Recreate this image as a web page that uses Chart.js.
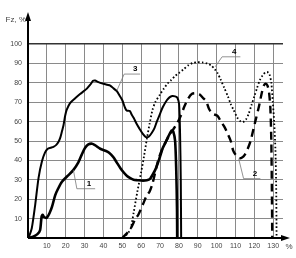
<!DOCTYPE html>
<html>
<head>
<meta charset="utf-8">
<script src="https://cdn.jsdelivr.net/npm/chart.js@4/dist/chart.umd.min.js"></script>
<style>
  html, body { margin: 0; padding: 0; background: #fff; }
  #wrap { width: 296px; height: 258px; }
</style>
</head>
<body>
<div id="wrap"><canvas id="fz-chart"></canvas></div>
<script>
// Curvas Fz (%) em função do percurso (%) - pares [x, y]
const curve1 = [[0.5,0],[3,0.8],[5,2],[6.4,4],[7.2,11],[7.8,12],[8.5,10.8],[10,10.5],[11.5,13],[12.7,16],[14.4,22],[16,25.5],[18,29],[21,32],[24,35],[26.7,39],[28.5,43],[30.3,46.5],[32,48.2],[34,48.6],[35.6,47.8],[38.3,46],[41,45],[43,44],[45.3,41.6],[47,39],[49,36],[51,33.5],[52.5,32],[54,31],[56,30],[58,29.8],[61,29.6],[63,29.8],[64.7,30.5],[66,32.5],[67.4,35],[69,39],[70,42],[71.5,46.5],[72.8,49],[74.5,52.5],[76.2,55.4],[77,55],[78,50],[78.6,35],[79,15],[79.1,0]];
const curve2 = [[50,0],[52,2],[54.5,5],[57,10],[58.5,12],[61,17.5],[63,22],[64.5,24],[66,28],[67.5,34],[69,40],[71,45.5],[73,49.5],[75,53],[77,56],[79,59],[81,63],[83,68],[85,72],[87,74.3],[89,74.6],[91,74],[93,72],[94.5,70.5],[96,66.5],[98,64],[100.5,63],[102,60.5],[104,57.5],[106,53.5],[107.5,50],[108.8,45],[110,43],[112,41.2],[113.5,41.5],[115,43],[116.5,46],[118,50],[119.5,56],[121,62],[122.5,68],[124,75],[125,78.5],[126,79.5],[127,78.5],[127.8,75],[128.5,67],[129,50],[129.3,25],[129.5,0]];
const curve3 = [[0.3,0],[2,5],[3.8,17],[5.6,31],[7.4,39.5],[9,44],[10.5,46],[12,46.5],[13.5,47],[15,48],[16.2,49.6],[17.2,52],[18,55],[18.8,58],[19.7,63],[20.5,66],[22.3,69.5],[25,72],[27.6,74.2],[30,76],[31.2,77],[33,79],[34.5,81],[35.6,81.2],[37,80.5],[40,79.5],[42,79],[43.6,78.6],[45.5,77],[47,75.8],[48.5,73.5],[50,71],[51.5,67],[52.4,65.7],[54,65.5],[55,63.5],[56,62],[57.5,59],[59,56.5],[61,53.5],[62.5,52],[64,52.2],[65.5,54],[67,56.5],[68.3,60],[70,64],[71.5,67.5],[73.6,71],[75,72.5],[76.5,73.2],[78,73],[79.2,72.3],[80.1,69],[80.6,55],[81,30],[81.2,0]];
const curve4 = [[50.5,0],[53,2.5],[54.5,5],[56,13],[58,24],[60,34],[61.5,42],[63,51],[64.5,59],[66,66],[67.5,70],[70,74],[72,77],[74,79.6],[76,81.5],[78,83.5],[80,85],[82.5,87],[85,89],[87.5,90.3],[90,90.6],[92.5,90.5],[95,90],[97,89],[99,87],[100.5,85],[102,82],[104,77.5],[106,73],[107.5,69],[109,66],[111,62],[112.5,60.3],[114,59.8],[115.5,61],[117,64],[118.5,68.5],[120,73],[121.5,77.5],[123,81.5],[124.5,84],[126,85.5],[127,85.5],[128,84.5],[129,80],[129.8,70],[130.5,60],[131.2,45],[131.6,25],[131.8,0]];

// Marcas dos eixos
const xTickValues = [0, 10, 20, 30, 40, 50, 60, 70, 80, 90, 100, 110, 120, 130];
const yTickValues = [0, 10, 20, 30, 40, 50, 60, 70, 80, 90, 100];

// Rótulos das curvas: [texto, ponto na curva, cotovelo, fim da linha] em unidades do gráfico
const curveLabels = [
    ['1', [24.1, 34.9], [25.9, 25.4], [35.6, 25.4]],
    ['2', [111.7, 40.9], [114.3, 30.6], [123.2, 30.6]],
    ['3', [47.2, 76.2], [51.0, 84.5], [59.5, 84.5]],
    ['4', [99.3, 88.3], [102.9, 93.4], [112.6, 93.4]]
];

const xMax = 135.2;
const FONT = 'Arial, "Liberation Sans", sans-serif';

const toPoints = arr => arr.map(p => ({ x: p[0], y: p[1] }));

// Eixos com setas, títulos e rótulos das curvas
const axesPlugin = {
    id: 'axesPlugin',
    afterDatasetsDraw(chart) {
        const ctx = chart.ctx;
        const xs = chart.scales.x;
        const ys = chart.scales.y;
        ctx.save();
        curveLabels.forEach(([text, a, b, c]) => {
            ctx.strokeStyle = '#777';
            ctx.lineWidth = 0.8;
            ctx.beginPath();
            ctx.moveTo(xs.getPixelForValue(a[0]), ys.getPixelForValue(a[1]));
            ctx.lineTo(xs.getPixelForValue(b[0]), ys.getPixelForValue(b[1]));
            ctx.lineTo(xs.getPixelForValue(c[0]), ys.getPixelForValue(c[1]));
            ctx.stroke();
            ctx.fillStyle = '#000';
            ctx.font = 'bold 8px ' + FONT;
            ctx.textAlign = 'center';
            ctx.textBaseline = 'bottom';
            const lx = (xs.getPixelForValue(b[0]) + xs.getPixelForValue(c[0])) / 2 + 3;
            ctx.fillText(text, lx, ys.getPixelForValue(b[1]) - 1);
        });
        ctx.restore();
    },
    afterDraw(chart) {
        const ctx = chart.ctx;
        const x0 = chart.scales.x.getPixelForValue(0);
        const y0 = chart.scales.y.getPixelForValue(0);
        ctx.save();
        ctx.strokeStyle = '#000';
        ctx.fillStyle = '#000';
        ctx.lineWidth = 2;
        // eixo Y
        ctx.beginPath();
        ctx.moveTo(x0, y0);
        ctx.lineTo(x0, 18);
        ctx.stroke();
        ctx.beginPath();
        ctx.moveTo(x0, 12);
        ctx.lineTo(x0 - 3, 21);
        ctx.lineTo(x0 + 3, 21);
        ctx.closePath();
        ctx.fill();
        // eixo X
        ctx.beginPath();
        ctx.moveTo(x0, y0);
        ctx.lineTo(284, y0);
        ctx.stroke();
        ctx.beginPath();
        ctx.moveTo(290, y0);
        ctx.lineTo(281, y0 - 3);
        ctx.lineTo(281, y0 + 3);
        ctx.closePath();
        ctx.fill();
        // títulos
        ctx.fillStyle = '#444';
        ctx.font = '8px ' + FONT;
        ctx.textAlign = 'right';
        ctx.textBaseline = 'middle';
        ctx.fillText('Fz, %', x0 - 2, 20);
        ctx.textAlign = 'center';
        ctx.fillText('%', 289, y0 + 9);
        ctx.restore();
    }
};

new Chart(document.getElementById('fz-chart'), {
    type: 'line',
    data: {
        datasets: [
            { label: '1', data: toPoints(curve1), borderColor: '#000', borderWidth: 2.6 },
            { label: '2', data: toPoints(curve2), borderColor: '#000', borderWidth: 2.4, borderDash: [8, 5] },
            { label: '3', data: toPoints(curve3), borderColor: '#000', borderWidth: 2 },
            { label: '4', data: toPoints(curve4), borderColor: '#000', borderWidth: 1.8, borderDash: [1.6, 2.2] }
        ]
    },
    options: {
        responsive: true,
        maintainAspectRatio: false,
        animation: false,
        layout: { padding: { top: 44, right: 13, left: 0, bottom: 0 } },
        elements: {
            point: { radius: 0 },
            line: { tension: 0.25, fill: false }
        },
        plugins: {
            legend: { display: false },
            tooltip: { enabled: false }
        },
        scales: {
            x: {
                type: 'linear',
                min: 0,
                max: xMax,
                afterBuildTicks: scale => {
                    scale.ticks = xTickValues.map(v => ({ value: v }));
                },
                afterFit: scale => { scale.height = 20; },
                ticks: {
                    padding: 4,
                    color: '#444',
                    font: { family: FONT, size: 7 },
                    maxRotation: 0,
                    autoSkip: false,
                    callback: v => (v === 0 ? '' : v)
                },
                grid: {
                    drawTicks: false,
                    color: ctx => (ctx.tick && ctx.tick.value === 0 ? 'rgba(0,0,0,0)' : '#8a8a8a'),
                    lineWidth: 1
                },
                border: { display: false }
            },
            y: {
                min: 0,
                max: 100,
                afterBuildTicks: scale => {
                    scale.ticks = yTickValues.map(v => ({ value: v }));
                },
                afterFit: scale => { scale.width = 28; },
                ticks: {
                    padding: 6,
                    color: '#444',
                    font: { family: FONT, size: 7 },
                    callback: v => (v === 0 ? '' : v)
                },
                grid: {
                    drawTicks: false,
                    color: ctx => {
                        if (!ctx.tick) return '#8a8a8a';
                        if (ctx.tick.value === 0) return 'rgba(0,0,0,0)';
                        if (ctx.tick.value === 100) return '#333';
                        return '#8a8a8a';
                    },
                    lineWidth: ctx => (ctx.tick && ctx.tick.value === 100 ? 1.6 : 1)
                },
                border: { display: false }
            }
        }
    },
    plugins: [axesPlugin]
});
</script>
</body>
</html>
